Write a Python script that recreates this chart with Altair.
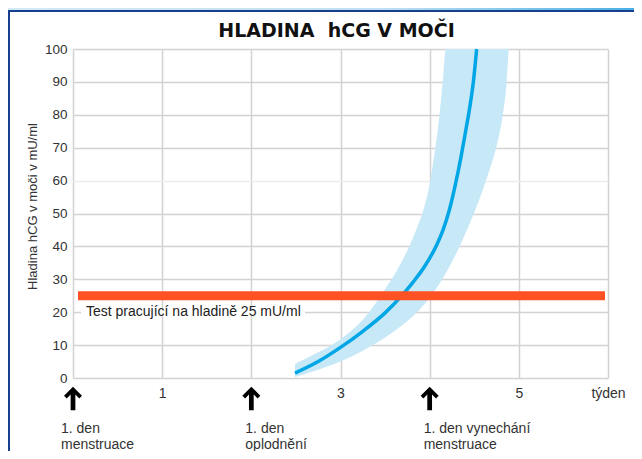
import altair as alt
import pandas as pd

# ---------------- data ----------------
line_weeks = [2.49, 2.75, 3.0, 3.25, 3.5, 3.68, 3.81, 3.95, 4.08, 4.15, 4.22, 4.29, 4.35, 4.40, 4.445, 4.49, 4.527]
line_values = [1.5, 5.0, 9.3, 14.2, 19.8, 24.8, 29.0, 34.2, 40.5, 45.0, 51.0, 59.0, 67.0, 74.5, 81.5, 90.0, 100.0]

band_weeks = [2.49, 2.75, 3.0, 3.25, 3.5, 3.65, 3.77, 3.87, 3.94, 4.0, 4.05, 4.1, 4.15, 4.18,
              4.3, 4.45, 4.55, 4.65, 4.75, 4.82, 4.86, 4.885]
band_low = [0.3, 2.5, 5.0, 8.3, 12.3, 15.2, 17.8, 20.3, 22.4, 24.4, 26.3, 28.3, 30.4, 31.8,
            38.0, 47.0, 53.8, 61.5, 70.5, 80.0, 89.0, 100.0]
band_high = [4.3, 7.8, 11.8, 17.7, 27.0, 33.5, 40.0, 46.5, 52.0, 59.0, 67.5, 77.5, 91.0, 100.0,
             100.0, 100.0, 100.0, 100.0, 100.0, 100.0, 100.0, 100.0]

test_level = 25
test_label_level = 20
test_label = "Test pracující na hladině 25 mU/ml"

arrow_weeks = [0, 2, 4]
arrow_labels = ["1. den\nmenstruace", "1. den\noplodnění", "1. den vynechání\nmenstruace"]

x_ticks = [0, 1, 2, 3, 4, 5, 6]
y_ticks = [0, 10, 20, 30, 40, 50, 60, 70, 80, 90, 100]
chart_title = "HLADINA\u00a0 hCG V MOČI"
y_title = "Hladina hCG v moči v mU/ml"

# ---------------- layout / style ----------------
W, H = 535, 329
PAD = {"left": 65, "top": 41, "right": 26, "bottom": 73}
FONT = "Liberation Sans"
TXT = "#333333"
GRID = "#d2d2d2"
ARROW = ("M0,-1 L0.76,-0.24 L0.53,0.0 L0.2,-0.34 L0.2,1 L-0.2,1 "
         "L-0.2,-0.34 L-0.53,0.0 L-0.76,-0.24 Z")
label_dx = [-12, -6, -6]

xs = alt.Scale(domain=[0, 6], nice=False, zero=False)
ys = alt.Scale(domain=[0, 100], nice=False)

line_df = pd.DataFrame({"week": line_weeks, "value": line_values})
band_df = pd.DataFrame({"week": band_weeks, "low": band_low, "high": band_high})
arrow_df = pd.DataFrame({"week": arrow_weeks})
one = pd.DataFrame({"a": [0]})

x_axis = alt.Axis(
    values=x_ticks,
    labelExpr="datum.value == 6 ? 'týden' : (datum.value % 2 == 1 ? '' + datum.value : '')",
    grid=True, gridColor=GRID, gridWidth=1.5,
    ticks=False, domain=False, title=None,
    labelPadding=8, labelFont=FONT, labelFontSize=14, labelColor=TXT,
    labelAngle=0, labelOverlap=False, labelBound=False, labelFlush=False,
)
y_axis = alt.Axis(
    values=y_ticks,
    grid=True,
    gridColor=alt.condition("datum.value == 60", alt.value("#ececec"), alt.value(GRID)),
    gridWidth=1.5,
    ticks=False, domain=False, labelOverlap=False,
    title=y_title, titleFont=FONT, titleFontSize=13, titleFontWeight="normal",
    titleColor=TXT, titlePadding=5, titleY=157,
    labelPadding=6, labelFont=FONT, labelFontSize=13.5, labelColor=TXT,
)


def X(field):
    return alt.X(field, scale=xs, axis=x_axis)


def Y(field=None, datum=None):
    if datum is not None:
        return alt.Y(datum=datum, scale=ys, axis=y_axis)
    return alt.Y(field, scale=ys, axis=y_axis)


band = alt.Chart(band_df).mark_area(color="#c7e8f7", interpolate="monotone").encode(
    x=X("week:Q"), y=Y("low:Q"), y2="high:Q",
)

line = alt.Chart(line_df).mark_line(
    color="#00a6e6", strokeWidth=3.5, interpolate="monotone"
).encode(x=X("week:Q"), y=Y("value:Q"))

test_rule = alt.Chart(one).mark_rule(color="#fe5124", strokeWidth=9, strokeCap="butt").encode(
    x=alt.value(5), x2=alt.value(W - 3), y=Y(datum=test_level)
)

gap = alt.Chart(one).mark_rule(color="white", strokeWidth=4).encode(
    x=alt.value(8), x2=alt.value(232), y=Y(datum=test_label_level)
)

test_text = alt.Chart(one).mark_text(
    align="left", baseline="middle", font=FONT, fontSize=14, color="#222222"
).encode(x=alt.value(13), y=Y(datum=test_label_level), text=alt.value(test_label))

arrows = alt.Chart(arrow_df).mark_point(
    shape=ARROW, filled=True, color="#000000", opacity=1, size=560, strokeWidth=0
).encode(x=X("week:Q"), y=alt.value(349.5))

texts = []
for wk, lab, dx in zip(arrow_weeks, arrow_labels, label_dx):
    texts.append(
        alt.Chart(pd.DataFrame({"week": [wk], "label": [lab]})).mark_text(
            align="left", baseline="alphabetic", font=FONT, fontSize=14, color=TXT,
            lineBreak="\n", lineHeight=15.5, dx=dx
        ).encode(x=X("week:Q"), y=alt.value(384), text="label:N")
    )

title_text = alt.Chart(one).mark_text(
    align="center", baseline="alphabetic", font="DejaVu Sans", fontSize=19,
    fontWeight="bold", color="#111111"
).encode(x=alt.value(W / 2 - 4), y=alt.value(-12), text=alt.value(chart_title))

top_strip = alt.Chart(one).mark_rect(
    color=alt.Gradient(
        gradient="linear",
        stops=[alt.GradientStop(color="#d3e9f6", offset=0),
               alt.GradientStop(color="#bfe0f3", offset=0.6),
               alt.GradientStop(color="#4aafe4", offset=1)],
        x1=0, x2=1, y1=0, y2=0,
    )
).encode(x=alt.value(-PAD["left"]), x2=alt.value(W + PAD["right"]),
         y=alt.value(-PAD["top"]), y2=alt.value(-PAD["top"] + 2))

top_border = alt.Chart(one).mark_rect(color="#163f8e").encode(
    x=alt.value(-PAD["left"]), x2=alt.value(W + PAD["right"]),
    y=alt.value(-PAD["top"] + 2), y2=alt.value(-PAD["top"] + 4)
)
left_border = alt.Chart(one).mark_rect(color="#163f8e").encode(
    x=alt.value(-PAD["left"]), x2=alt.value(-PAD["left"] + 2),
    y=alt.value(-PAD["top"] + 2), y2=alt.value(H + PAD["bottom"])
)

chart = alt.layer(
    band, line, test_rule, gap, test_text, arrows, *texts, title_text,
    top_strip, top_border, left_border
).properties(
    width=W, height=H,
    autosize=alt.AutoSizeParams(type="none"),
    padding=PAD,
).configure(background="white").configure_view(stroke=None)

chart.save("out.html", embed_options={"renderer": "svg", "actions": False})
